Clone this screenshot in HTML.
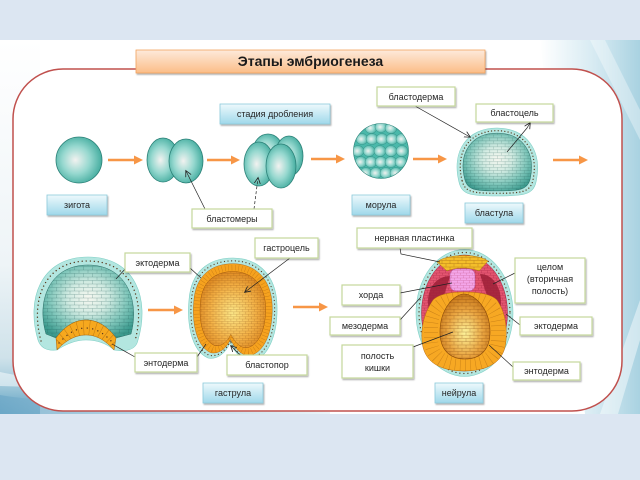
<!DOCTYPE html>
<html><head><meta charset="utf-8"><style>
html,body{margin:0;padding:0;background:#dce6f2;}
svg{display:block;}
text{font-family:"Liberation Sans",sans-serif;}
</style></head><body>
<svg width="640" height="480" viewBox="0 0 640 480" xmlns="http://www.w3.org/2000/svg">
<defs>
  <linearGradient id="rbg" x1="0" y1="0" x2="1" y2="0">
    <stop offset="0" stop-color="#ffffff"/><stop offset="0.55" stop-color="#d6eaf2"/><stop offset="1" stop-color="#a9d2e1"/>
  </linearGradient>
  <linearGradient id="lbg" x1="0" y1="0" x2="0" y2="1">
    <stop offset="0" stop-color="#ffffff"/><stop offset="0.6" stop-color="#eef4f7"/><stop offset="0.85" stop-color="#cfe2ea"/><stop offset="0.93" stop-color="#9cc6d9"/><stop offset="1" stop-color="#5c9fc0"/>
  </linearGradient>
  <linearGradient id="bbg" x1="0" y1="0" x2="1" y2="0">
    <stop offset="0" stop-color="#6fa9c8"/><stop offset="0.5" stop-color="#a9cde0"/><stop offset="1" stop-color="#e6f1f6"/>
  </linearGradient>
  <linearGradient id="tg" x1="0" y1="0" x2="0" y2="1">
    <stop offset="0" stop-color="#fdeadb"/><stop offset="1" stop-color="#fbbd88"/>
  </linearGradient>
  <linearGradient id="bg" x1="0" y1="0" x2="0" y2="1">
    <stop offset="0" stop-color="#eef9fc"/><stop offset="1" stop-color="#9fd8ea"/>
  </linearGradient>
  <radialGradient id="ball" cx="0.45" cy="0.5" r="0.6" fx="0.42" fy="0.5">
    <stop offset="0" stop-color="#f2f2f0"/><stop offset="0.5" stop-color="#96d8cf"/><stop offset="1" stop-color="#36a597"/>
  </radialGradient>
  <radialGradient id="blIn" cx="0.5" cy="0.45" r="0.62">
    <stop offset="0" stop-color="#f6f7f0"/><stop offset="0.35" stop-color="#d2ebe2"/><stop offset="0.7" stop-color="#7fc6ba"/><stop offset="1" stop-color="#3b9a8e"/>
  </radialGradient>
  <radialGradient id="orIn" cx="0.5" cy="0.55" r="0.6">
    <stop offset="0" stop-color="#fde98a"/><stop offset="0.6" stop-color="#f3b045"/><stop offset="1" stop-color="#d9811a"/>
  </radialGradient>
  <radialGradient id="gut" cx="0.5" cy="0.6" r="0.6">
    <stop offset="0" stop-color="#fdf39a"/><stop offset="0.6" stop-color="#e9a440"/><stop offset="1" stop-color="#c47418"/>
  </radialGradient>
  <pattern id="meshT" width="9" height="7" patternUnits="userSpaceOnUse">
    <path d="M0,0.5H9M0,4H9M2.5,0.5V4M7,4V7.5" stroke="#1d5a52" stroke-width="0.5" fill="none" opacity="0.4"/>
  </pattern>
  <pattern id="meshO" width="8" height="6.5" patternUnits="userSpaceOnUse">
    <path d="M0,0.5H8M0,3.7H8M2,0.5V3.7M6,3.7V7" stroke="#7a3e08" stroke-width="0.5" fill="none" opacity="0.45"/>
  </pattern>
  <pattern id="meshR" width="6" height="5" patternUnits="userSpaceOnUse">
    <path d="M0,0.5H6M0,3H6M1.5,0.5V3M4.5,3V5.5" stroke="#9a1c3a" stroke-width="0.5" fill="none" opacity="0.5"/>
  </pattern>
  <marker id="oa" markerWidth="10" markerHeight="10" refX="1" refY="5" orient="auto" markerUnits="userSpaceOnUse">
    <path d="M0,0.5 L9,5 L0,9.5 Z" fill="#f79646"/>
  </marker>
  <marker id="ah" markerWidth="7" markerHeight="7" refX="5.5" refY="3.5" orient="auto" markerUnits="userSpaceOnUse">
    <path d="M0,0.5 L6,3.5 L0,6.5" fill="none" stroke="#222" stroke-width="0.8"/>
  </marker>
  <filter id="sh" x="-10%" y="-20%" width="130%" height="160%">
    <feDropShadow dx="1" dy="1.5" stdDeviation="0.8" flood-color="#000" flood-opacity="0.3"/>
  </filter>
  <clipPath id="mcl"><circle cx="381" cy="151" r="27.5"/></clipPath>
  <clipPath id="bandcl"><path d="M56,338 C64,327 74,320 86,320 C98,320 108,327 116,338 L114,350 C106,341 97,335 86,335 C75,335 65,341 57,350 Z"/></clipPath>
  <clipPath id="endcl"><path d="M433,300 C440,293 455,292 464,292 C474,292 490,293 497,300 C505,312 507,325 506,340 C505,362 488,371 464,371 C440,371 423,362 422,340 C421,325 425,312 433,300 Z"/></clipPath>
</defs>

<!-- background -->
<rect width="640" height="480" fill="#dce6f2"/>
<rect x="0" y="40" width="640" height="374" fill="#fff"/>
<path d="M540,40 H640 V414 H585 Z" fill="url(#rbg)"/>
<path d="M600,414 L618,414 L640,340 L640,300 Z" fill="#fff" opacity="0.45"/>
<path d="M590,40 L605,40 L640,110 L640,140 Z" fill="#fff" opacity="0.35"/>
<rect x="0" y="40" width="40" height="374" fill="url(#lbg)"/>
<path d="M0,395 C60,405 200,408 330,412 L330,414 L0,414 Z" fill="url(#bbg)" opacity="0.8"/>
<path d="M0,372 C20,376 40,380 70,388 L0,386 Z" fill="#fff" opacity="0.5"/>

<!-- frame -->
<rect x="13" y="69" width="609" height="342" rx="50" ry="50" fill="#fff" stroke="#c0504d" stroke-width="1.5"/>

<!-- title -->
<rect x="136" y="50" width="349" height="23" fill="url(#tg)" stroke="#f2a35e" stroke-width="0.8" filter="url(#sh)"/>
<text x="310.5" y="66" font-size="14" font-weight="bold" text-anchor="middle" fill="#1a1a1a">Этапы эмбриогенеза</text>

<!-- orange arrows -->
<g stroke="#f79646" stroke-width="2.5" marker-end="url(#oa)">
  <line x1="108" y1="160" x2="135" y2="160"/>
  <line x1="207" y1="160" x2="232" y2="160"/>
  <line x1="311" y1="159" x2="337" y2="159"/>
  <line x1="413" y1="159" x2="439" y2="159"/>
  <line x1="553" y1="160" x2="580" y2="160"/>
  <line x1="148" y1="310" x2="175" y2="310"/>
  <line x1="293" y1="307" x2="320" y2="307"/>
</g>

<!-- zygote -->
<circle cx="79" cy="160" r="23" fill="url(#ball)" stroke="#2b8077" stroke-width="0.8"/>

<!-- 2-cell -->
<ellipse cx="163" cy="160" rx="16" ry="22" fill="url(#ball)" stroke="#2b8077" stroke-width="0.8"/>
<ellipse cx="186" cy="161" rx="17" ry="22" fill="url(#ball)" stroke="#2b8077" stroke-width="0.8"/>

<!-- 4-cell -->
<ellipse cx="268" cy="151" rx="15" ry="17" fill="url(#ball)" stroke="#2b8077" stroke-width="0.8"/>
<ellipse cx="289" cy="156" rx="14" ry="20" fill="url(#ball)" stroke="#2b8077" stroke-width="0.8"/>
<ellipse cx="259" cy="164" rx="15" ry="22" fill="url(#ball)" stroke="#2b8077" stroke-width="0.8"/>
<ellipse cx="281" cy="166" rx="15" ry="22" fill="url(#ball)" stroke="#2b8077" stroke-width="0.8"/>

<!-- morula -->
<circle cx="381" cy="151" r="27.5" fill="#4ab8aa"/>
<g clip-path="url(#mcl)" fill="url(#ball)" stroke="#2f8f84" stroke-width="0.4">
  <ellipse cx="371" cy="128" rx="6" ry="5.5"/><ellipse cx="381" cy="127" rx="6" ry="5.5"/><ellipse cx="391" cy="128" rx="6" ry="5.5"/>
  <ellipse cx="362" cy="139" rx="6" ry="5.5"/><ellipse cx="372" cy="139" rx="6" ry="5.5"/><ellipse cx="382" cy="139" rx="6" ry="5.5"/><ellipse cx="392" cy="139" rx="6" ry="5.5"/><ellipse cx="402" cy="139" rx="6" ry="5.5"/>
  <ellipse cx="358" cy="151" rx="6" ry="5.5"/><ellipse cx="369" cy="151" rx="6" ry="5.5"/><ellipse cx="380" cy="151" rx="6" ry="5.5"/><ellipse cx="391" cy="151" rx="6" ry="5.5"/><ellipse cx="402" cy="151" rx="6" ry="5.5"/>
  <ellipse cx="361" cy="162" rx="6" ry="5.5"/><ellipse cx="371" cy="162" rx="6" ry="5.5"/><ellipse cx="381" cy="162" rx="6" ry="5.5"/><ellipse cx="391" cy="162" rx="6" ry="5.5"/><ellipse cx="401" cy="162" rx="6" ry="5.5"/>
  <ellipse cx="366" cy="173" rx="6" ry="5.5"/><ellipse cx="376" cy="173" rx="6" ry="5.5"/><ellipse cx="386" cy="173" rx="6" ry="5.5"/><ellipse cx="396" cy="173" rx="6" ry="5.5"/>
</g>
<circle cx="381" cy="151" r="27.5" fill="none" stroke="#2b8077" stroke-width="0.6"/>

<!-- blastula -->
<g>
  <path d="M459,182 C451,150 468,128 497,128 C526,128 543,150 536,182 C533,195 523,196 497,196 C471,196 462,195 459,182 Z" fill="#b3e6e0" stroke="#7fcfc5" stroke-width="0.6"/>
  <path transform="translate(497,162) scale(0.92) translate(-497,-162)" d="M459,182 C451,150 468,128 497,128 C526,128 543,150 536,182 C533,195 523,196 497,196 C471,196 462,195 459,182 Z" fill="none" stroke="#5a3a1e" stroke-width="1.4" stroke-linecap="round" stroke-dasharray="0.01 3.6"/>
  <path transform="translate(497,162) scale(0.85) translate(-497,-162)" d="M459,182 C451,150 468,128 497,128 C526,128 543,150 536,182 C533,195 523,196 497,196 C471,196 462,195 459,182 Z" fill="url(#blIn)" stroke="#2b6e66" stroke-width="0.6"/>
  <path transform="translate(497,162) scale(0.85) translate(-497,-162)" d="M459,182 C451,150 468,128 497,128 C526,128 543,150 536,182 C533,195 523,196 497,196 C471,196 462,195 459,182 Z" fill="url(#meshT)"/>
</g>

<!-- early gastrula -->
<g>
  <path d="M38,340 C26,300 40,257 88,257 C136,257 150,300 138,340 C136,350 126,352 114,350 C106,343 96,340 86,340 C76,340 66,344 57,350 C48,351 41,349 38,340 Z" fill="#b3e6e0" stroke="#7fcfc5" stroke-width="0.6"/>
  <path d="M41,341 C30,300 44,261 88,261 C132,261 146,300 135,341" fill="none" stroke="#5a3a1e" stroke-width="1.4" stroke-linecap="round" stroke-dasharray="0.01 4"/>
  <path d="M46,334 C36,300 50,265 88,265 C126,265 140,300 131,334 L116,338 C108,327 98,320 86,320 C74,320 64,327 56,338 Z" fill="url(#blIn)" stroke="#2b6e66" stroke-width="0.5"/>
  <path d="M46,334 C36,300 50,265 88,265 C126,265 140,300 131,334 L116,338 C108,327 98,320 86,320 C74,320 64,327 56,338 Z" fill="url(#meshT)"/>
  <path d="M56,338 C64,327 74,320 86,320 C98,320 108,327 116,338 L114,350 C106,341 97,335 86,335 C75,335 65,341 57,350 Z" fill="#f6a81e" stroke="#a86008" stroke-width="0.5"/>
  <path clip-path="url(#bandcl)" d="M54,346 C64,333 74,327 86,327 C98,327 108,333 118,346" fill="none" stroke="#8a4a08" stroke-width="18" stroke-dasharray="0.5 5.5" opacity="0.5"/>
  <path d="M59,343 C67,334 76,328 86,328 C96,328 105,334 113,343" fill="none" stroke="#5a3a1e" stroke-width="1.4" stroke-linecap="round" stroke-dasharray="0.01 5.5"/>
</g>

<!-- middle gastrula -->
<g>
  <path d="M230,343 C226,352 218,360 208,358 C190,350 187,320 189,300 C191,272 208,258 233,258 C258,258 276,275 277,305 C278,335 268,358 252,361 C242,362 235,352 230,343 Z" fill="#b3e6e0" stroke="#7fcfc5" stroke-width="0.6"/>
  <path transform="translate(233,310) scale(0.945) translate(-233,-310)" d="M230,343 C226,352 218,360 208,358 C190,350 187,320 189,300 C191,272 208,258 233,258 C258,258 276,275 277,305 C278,335 268,358 252,361 C242,362 235,352 230,343 Z" fill="none" stroke="#5a3a1e" stroke-width="1.3" stroke-linecap="round" stroke-dasharray="0.01 3.8"/>
  <path transform="translate(233,310) scale(0.89) translate(-233,-310)" d="M230,343 C226,352 218,360 208,358 C190,350 187,320 189,300 C191,272 208,258 233,258 C258,258 276,275 277,305 C278,335 268,358 252,361 C242,362 235,352 230,343 Z" fill="#f6a21e" stroke="#b0600a" stroke-width="0.5"/>
  <path transform="translate(233,310) scale(0.815) translate(-233,-310)" d="M230,343 C226,352 218,360 208,358 C190,350 187,320 189,300 C191,272 208,258 233,258 C258,258 276,275 277,305 C278,335 268,358 252,361 C242,362 235,352 230,343 Z" fill="none" stroke="#8a4a08" stroke-width="7" stroke-dasharray="0.5 3.6" opacity="0.45"/>
  <path transform="translate(233,310) scale(0.74) translate(-233,-310)" d="M230,343 C226,352 218,360 208,358 C190,350 187,320 189,300 C191,272 208,258 233,258 C258,258 276,275 277,305 C278,335 268,358 252,361 C242,362 235,352 230,343 Z" fill="url(#orIn)" stroke="#9a520a" stroke-width="0.6"/>
  <path transform="translate(233,310) scale(0.74) translate(-233,-310)" d="M230,343 C226,352 218,360 208,358 C190,350 187,320 189,300 C191,272 208,258 233,258 C258,258 276,275 277,305 C278,335 268,358 252,361 C242,362 235,352 230,343 Z" fill="url(#meshO)"/>
</g>

<!-- neurula -->
<g>
  <ellipse cx="464.5" cy="313" rx="48.5" ry="63.5" fill="#b3e6e0" stroke="#7fcfc5" stroke-width="0.6"/>
  <ellipse cx="464.5" cy="313" rx="45.5" ry="60.5" fill="none" stroke="#5a3a1e" stroke-width="1.3" stroke-linecap="round" stroke-dasharray="0.01 4"/>
  <ellipse cx="464.5" cy="313" rx="43" ry="58" fill="#e45570" stroke="#a0203c" stroke-width="0.5"/>
  <ellipse cx="464.5" cy="313" rx="43" ry="58" fill="url(#meshR)"/>
  <path d="M428,302 C428,286 438,276 450,276 C446,290 441,303 437,320 C432,320 428,312 428,302 Z" fill="#a8283f"/>
  <path d="M428,302 C428,286 438,276 450,276 C446,290 441,303 437,320 C432,320 428,312 428,302 Z" fill="url(#meshR)"/>
  <path d="M501,302 C501,286 492,274 480,274 C484,288 490,302 494,320 C498,320 501,312 501,302 Z" fill="#a8283f"/>
  <path d="M501,302 C501,286 492,274 480,274 C484,288 490,302 494,320 C498,320 501,312 501,302 Z" fill="url(#meshR)"/>
  <path d="M437,262 C446,254 478,253 488,261 L479,271 C470,267 456,267 447,271 Z" fill="#f4be2a" stroke="#b07a10" stroke-width="0.5"/>
  <path d="M437,262 C446,254 478,253 488,261 L479,271 C470,267 456,267 447,271 Z" fill="url(#meshO)"/>
  <rect x="450" y="269" width="25" height="22" rx="6" fill="#f4a6ea" stroke="#b050a0" stroke-width="0.5"/>
  <rect x="450" y="269" width="25" height="22" rx="6" fill="url(#meshR)" opacity="0.6"/>
  <path d="M433,300 C440,293 455,292 464,292 C474,292 490,293 497,300 C505,312 507,325 506,340 C505,362 488,371 464,371 C440,371 423,362 422,340 C421,325 425,312 433,300 Z" fill="#f7a823" stroke="#b86a10" stroke-width="0.5"/>
  <path clip-path="url(#endcl)" d="M431,328 C431,305 447,298 464,298 C482,298 498,305 498,328 L498,338 C498,358 485,364 464,364 C444,364 431,358 431,338 Z" fill="none" stroke="#8a4a08" stroke-width="14" stroke-dasharray="0.5 4.5" opacity="0.4"/>
  <path d="M440,332 C440,308 455,294 464,294 C474,294 490,308 490,332 C490,350 480,359 465,359 C450,359 440,350 440,332 Z" fill="url(#gut)" stroke="#8a4a08" stroke-width="0.6"/>
  <path d="M440,332 C440,308 455,294 464,294 C474,294 490,308 490,332 C490,350 480,359 465,359 C450,359 440,350 440,332 Z" fill="url(#meshO)"/>
</g>

<!-- connector lines -->
<g stroke="#222" stroke-width="0.7" fill="none">
  <line x1="205" y1="209" x2="186" y2="171" marker-end="url(#ah)"/>
  <line x1="254" y1="209" x2="258" y2="178" stroke-dasharray="3 2" marker-end="url(#ah)"/>
  <line x1="415" y1="106" x2="470" y2="137" marker-end="url(#ah)"/>
  <polyline points="507,152 527,128 530,123" marker-end="url(#ah)"/>
  <line x1="126" y1="268" x2="116" y2="279"/>
  <line x1="190" y1="268" x2="201" y2="278"/>
  <line x1="290" y1="258" x2="245" y2="292" marker-end="url(#ah)"/>
  <line x1="135" y1="357" x2="112" y2="344"/>
  <line x1="197" y1="357" x2="206" y2="344"/>
  <line x1="240" y1="355" x2="231" y2="346" marker-end="url(#ah)"/>
  <polyline points="400,248 401,254 440,262"/>
  <line x1="400" y1="293" x2="452" y2="283"/>
  <line x1="515" y1="273" x2="493" y2="284"/>
  <line x1="400" y1="320" x2="421" y2="297"/>
  <line x1="520" y1="325" x2="506" y2="314"/>
  <line x1="413" y1="347" x2="453" y2="332"/>
  <line x1="513" y1="367" x2="489" y2="345"/>
</g>

<!-- blue stage boxes -->
<g fill="url(#bg)" stroke="#8ccadb" stroke-width="0.8" filter="url(#sh)">
  <rect x="47" y="195" width="60" height="20"/>
  <rect x="220" y="104" width="110" height="20"/>
  <rect x="352" y="195" width="58" height="20"/>
  <rect x="465" y="203" width="58" height="20"/>
  <rect x="203" y="383" width="60" height="20"/>
  <rect x="435" y="383" width="48" height="20"/>
</g>

<!-- white label boxes -->
<g fill="#fff" stroke="#c4d79b" stroke-width="1.2" filter="url(#sh)">
  <rect x="192" y="209" width="80" height="19"/>
  <rect x="377" y="87" width="78" height="19"/>
  <rect x="476" y="104" width="77" height="18"/>
  <rect x="125" y="253" width="65" height="19"/>
  <rect x="255" y="238" width="63" height="20"/>
  <rect x="135" y="353" width="62" height="19"/>
  <rect x="227" y="355" width="80" height="20"/>
  <rect x="357" y="228" width="115" height="20"/>
  <rect x="342" y="285" width="58" height="20"/>
  <rect x="515" y="258" width="70" height="45"/>
  <rect x="330" y="317" width="70" height="18"/>
  <rect x="520" y="317" width="72" height="18"/>
  <rect x="342" y="345" width="71" height="33"/>
  <rect x="513" y="362" width="67" height="18"/>
</g>

<!-- texts -->
<g font-size="9" fill="#262626" text-anchor="middle">
  <text x="77" y="208">зигота</text>
  <text x="275" y="117">стадия дробления</text>
  <text x="381" y="208">морула</text>
  <text x="494" y="216">бластула</text>
  <text x="233" y="396">гаструла</text>
  <text x="459" y="396">нейрула</text>
  <text x="232" y="222">бластомеры</text>
  <text x="416" y="100">бластодерма</text>
  <text x="514.5" y="116">бластоцель</text>
  <text x="157.5" y="266">эктодерма</text>
  <text x="286.5" y="251">гастроцель</text>
  <text x="166" y="366">энтодерма</text>
  <text x="267" y="368">бластопор</text>
  <text x="414.5" y="241">нервная пластинка</text>
  <text x="371" y="298">хорда</text>
  <text x="550" y="270">целом</text>
  <text x="550" y="282">(вторичная</text>
  <text x="550" y="294">полость)</text>
  <text x="365" y="329">мезодерма</text>
  <text x="556" y="329">эктодерма</text>
  <text x="377.5" y="359">полость</text>
  <text x="377.5" y="371">кишки</text>
  <text x="546.5" y="374">энтодерма</text>
</g>
</svg>
</body></html>
